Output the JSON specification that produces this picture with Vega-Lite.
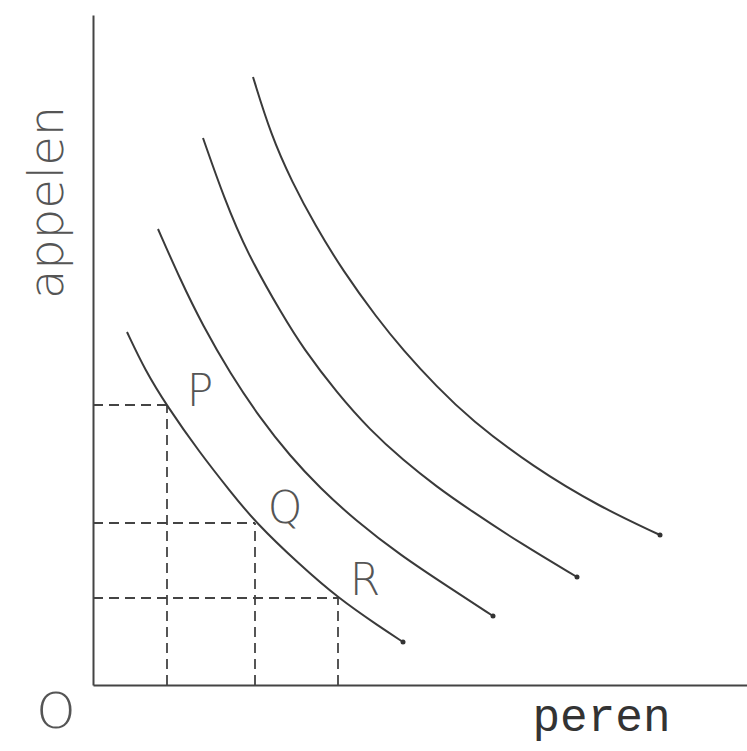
{
  "$schema": "https://vega.github.io/schema/vega-lite/v6.json",
  "width": 654,
  "height": 670,
  "autosize": "none",
  "padding": {"left": 93, "top": 15, "right": 0, "bottom": 66},
  "background": "white",
  "config": {"view": {"stroke": null}},
  "datasets": {
    "curves": [
      {"curve": "I1", "o": 1, "peren": 34, "appelen": 353},
      {"curve": "I1", "o": 2, "peren": 52, "appelen": 315},
      {"curve": "I1", "o": 3, "peren": 74, "appelen": 279},
      {"curve": "I1", "o": 4, "peren": 107, "appelen": 232},
      {"curve": "I1", "o": 5, "peren": 137, "appelen": 194},
      {"curve": "I1", "o": 6, "peren": 162, "appelen": 163},
      {"curve": "I1", "o": 7, "peren": 207, "appelen": 120},
      {"curve": "I1", "o": 8, "peren": 245, "appelen": 87},
      {"curve": "I1", "o": 9, "peren": 287, "appelen": 58},
      {"curve": "I1", "o": 10, "peren": 310, "appelen": 43},
      {"curve": "I2", "o": 1, "peren": 65, "appelen": 456},
      {"curve": "I2", "o": 2, "peren": 87, "appelen": 406},
      {"curve": "I2", "o": 3, "peren": 110, "appelen": 359},
      {"curve": "I2", "o": 4, "peren": 137, "appelen": 312},
      {"curve": "I2", "o": 5, "peren": 167, "appelen": 267},
      {"curve": "I2", "o": 6, "peren": 197, "appelen": 229},
      {"curve": "I2", "o": 7, "peren": 227, "appelen": 197},
      {"curve": "I2", "o": 8, "peren": 262, "appelen": 165},
      {"curve": "I2", "o": 9, "peren": 307, "appelen": 130},
      {"curve": "I2", "o": 10, "peren": 357, "appelen": 97},
      {"curve": "I2", "o": 11, "peren": 400, "appelen": 69},
      {"curve": "I3", "o": 1, "peren": 110, "appelen": 547},
      {"curve": "I3", "o": 2, "peren": 131, "appelen": 487},
      {"curve": "I3", "o": 3, "peren": 154, "appelen": 432},
      {"curve": "I3", "o": 4, "peren": 190, "appelen": 369},
      {"curve": "I3", "o": 5, "peren": 210, "appelen": 337},
      {"curve": "I3", "o": 6, "peren": 244, "appelen": 292},
      {"curve": "I3", "o": 7, "peren": 277, "appelen": 255},
      {"curve": "I3", "o": 8, "peren": 310, "appelen": 225},
      {"curve": "I3", "o": 9, "peren": 344, "appelen": 198},
      {"curve": "I3", "o": 10, "peren": 377, "appelen": 175},
      {"curve": "I3", "o": 11, "peren": 427, "appelen": 142},
      {"curve": "I3", "o": 12, "peren": 484, "appelen": 108},
      {"curve": "I4", "o": 1, "peren": 160, "appelen": 608},
      {"curve": "I4", "o": 2, "peren": 178, "appelen": 550},
      {"curve": "I4", "o": 3, "peren": 199, "appelen": 503},
      {"curve": "I4", "o": 4, "peren": 222, "appelen": 460},
      {"curve": "I4", "o": 5, "peren": 250, "appelen": 414},
      {"curve": "I4", "o": 6, "peren": 284, "appelen": 367},
      {"curve": "I4", "o": 7, "peren": 310, "appelen": 335},
      {"curve": "I4", "o": 8, "peren": 344, "appelen": 298},
      {"curve": "I4", "o": 9, "peren": 377, "appelen": 266},
      {"curve": "I4", "o": 10, "peren": 440, "appelen": 218},
      {"curve": "I4", "o": 11, "peren": 507, "appelen": 178},
      {"curve": "I4", "o": 12, "peren": 567, "appelen": 150}
    ],
    "ends": [
      {"peren": 310, "appelen": 43},
      {"peren": 400, "appelen": 69},
      {"peren": 484, "appelen": 108},
      {"peren": 567, "appelen": 150}
    ],
    "guides": [
      {"x": 0, "x2": 74, "y": 280, "y2": 280},
      {"x": 74, "x2": 74, "y": 0, "y2": 280},
      {"x": 0, "x2": 162, "y": 162, "y2": 162},
      {"x": 162, "x2": 162, "y": 0, "y2": 162},
      {"x": 0, "x2": 245, "y": 87, "y2": 87},
      {"x": 245, "x2": 245, "y": 0, "y2": 87}
    ],
    "labels": [
      {"label": "P", "peren": 107, "appelen": 292},
      {"label": "Q", "peren": 192, "appelen": 175},
      {"label": "R", "peren": 272, "appelen": 103}
    ],
    "origin": [
      {"label": "O", "peren": -37, "appelen": -28}
    ]
  },
  "layer": [
    {
      "data": {"name": "guides"},
      "mark": {"type": "rule", "strokeDash": [10, 6], "strokeWidth": 1.8, "color": "#444"},
      "encoding": {
        "x": {"field": "x", "type": "quantitative", "scale": {"domain": [0, 654], "nice": false, "zero": false},
          "axis": {"domain": true, "domainColor": "#444", "domainWidth": 2, "ticks": false, "labels": false, "grid": false,
            "title": "peren", "titleFont": "Liberation Mono", "titleFontSize": 46, "titleFontWeight": "normal", "titleColor": "#333",
            "titleX": 508, "titleY": 45, "titleAlign": "center", "titleBaseline": "alphabetic"}},
        "x2": {"field": "x2"},
        "y": {"field": "y", "type": "quantitative", "scale": {"domain": [0, 670], "nice": false, "zero": false},
          "axis": {"domain": true, "domainColor": "#444", "domainWidth": 2, "ticks": false, "labels": false, "grid": false,
            "title": "appelen", "titleFont": "DejaVu Sans", "titleFontSize": 48, "titleFontWeight": 200, "titleColor": "#555",
            "titleX": -31, "titleY": 187, "titleAngle": 270, "titleAlign": "center", "titleBaseline": "alphabetic"}},
        "y2": {"field": "y2"}
      }
    },
    {
      "data": {"name": "curves"},
      "mark": {"type": "line", "interpolate": "basis", "strokeWidth": 2, "color": "#3a3a3a"},
      "encoding": {
        "x": {"field": "peren", "type": "quantitative"},
        "y": {"field": "appelen", "type": "quantitative"},
        "detail": {"field": "curve"},
        "order": {"field": "o", "type": "quantitative"}
      }
    },
    {
      "data": {"name": "ends"},
      "mark": {"type": "point", "filled": true, "size": 25, "color": "#333", "opacity": 1},
      "encoding": {
        "x": {"field": "peren", "type": "quantitative"},
        "y": {"field": "appelen", "type": "quantitative"}
      }
    },
    {
      "data": {"name": "labels"},
      "mark": {"type": "text", "font": "DejaVu Sans", "fontSize": 44, "fontWeight": 200, "color": "#555", "align": "center", "baseline": "middle"},
      "encoding": {
        "x": {"field": "peren", "type": "quantitative"},
        "y": {"field": "appelen", "type": "quantitative"},
        "text": {"field": "label"}
      }
    },
    {
      "data": {"name": "origin"},
      "mark": {"type": "text", "font": "DejaVu Sans", "fontSize": 50, "fontWeight": 200, "color": "#555", "align": "center", "baseline": "middle"},
      "encoding": {
        "x": {"field": "peren", "type": "quantitative"},
        "y": {"field": "appelen", "type": "quantitative"},
        "text": {"field": "label"}
      }
    }
  ]
}
